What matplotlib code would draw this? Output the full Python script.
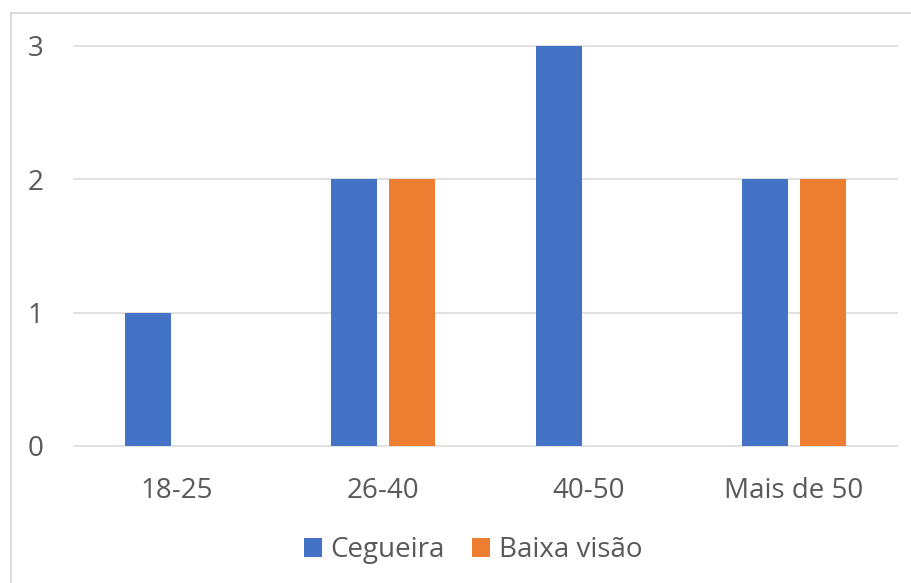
import matplotlib.pyplot as plt
import numpy as np
from matplotlib.lines import Line2D

plt.rcParams['font.family'] = ['Open Sans', 'DejaVu Sans']

categorias = ["18-25", "26-40", "40-50", "Mais de 50"]
cegueira = [1, 2, 3, 2]
baixa_visao = [0, 2, 0, 2]
series = ["Cegueira", "Baixa visão"]
yticks = [0, 1, 2, 3]

azul = "#4472C4"
laranja = "#ED7D31"
cinza_txt = "#595959"
cinza_grade = "#D9D9D9"

W, H = 912, 583
fig = plt.figure(figsize=(W / 100, H / 100), dpi=100)
ax = fig.add_axes([74 / W, 1 - 446 / H, (897 - 74) / W, (446 - 46) / H])

x = np.arange(len(categorias))
larg = 0.224
desl = 0.141
ax.bar(x - desl, cegueira, width=larg, color=azul, label=series[0], zorder=3)
ax.bar(x + desl, baixa_visao, width=larg, color=laranja, label=series[1], zorder=3)

ax.set_xlim(-0.5, len(categorias) - 0.5)
ax.set_ylim(0, 3)
ax.set_yticks(yticks)
ax.set_xticks(x)
ax.set_xticklabels(categorias)
for s in ax.spines.values():
    s.set_visible(False)
ax.yaxis.grid(True, color=cinza_grade, linewidth=1.1)
for gl in ax.get_ygridlines():
    gl.set_clip_on(False)
ax.tick_params(axis='both', length=0, labelsize=20, colors=cinza_txt)
ax.tick_params(axis='y', pad=22)
ax.tick_params(axis='x', pad=22)

leg = fig.legend(loc='center', bbox_to_anchor=(473 / W, 1 - 550 / H), ncol=2,
                 frameon=False, fontsize=20, handlelength=0.65, handleheight=0.65,
                 handletextpad=0.3, columnspacing=1.0)
for t in leg.get_texts():
    t.set_color(cinza_txt)

# moldura do gráfico
fig.add_artist(Line2D([11 / W, 1], [1 - 13 / H, 1 - 13 / H], color=cinza_grade, linewidth=1.3))
fig.add_artist(Line2D([11 / W, 11 / W], [0, 1 - 13 / H], color=cinza_grade, linewidth=1.3))

fig.savefig("out.png", dpi=100)
